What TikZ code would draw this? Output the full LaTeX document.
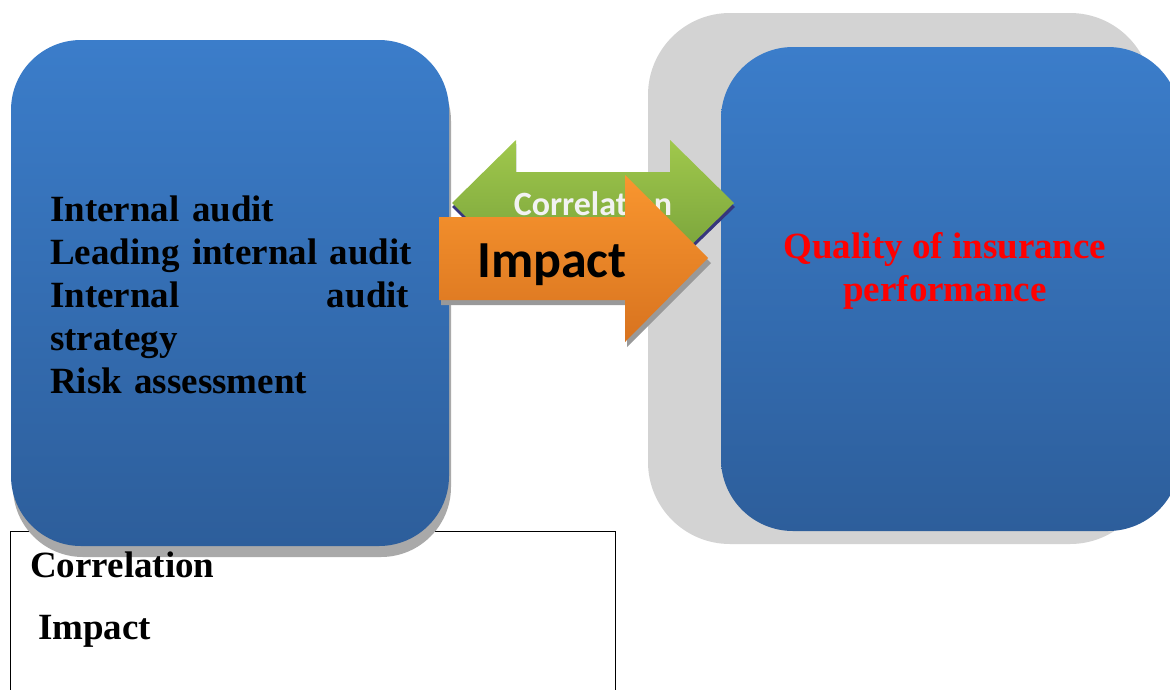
\documentclass[tikz,border=0pt]{standalone}
\usepackage{fontspec}
\setmainfont{Liberation Serif}
\newfontfamily\calibri{Carlito}
\usepackage{tikz}

\definecolor{boxtop}{HTML}{3B7DCA}
\definecolor{boxbottom}{HTML}{2D5E9B}
\definecolor{backgray}{HTML}{D3D3D3}
\definecolor{shadowgray}{HTML}{A9A9A9}
\definecolor{greentop}{HTML}{A0C84C}
\definecolor{greenbottom}{HTML}{76A03A}
\definecolor{orangetop}{HTML}{F9962F}
\definecolor{orangebottom}{HTML}{D8731F}

\begin{document}
\begin{tikzpicture}[x=1pt,y=-1pt,
  bluebox/.style={top color=boxtop,bottom color=boxbottom},
  bigtext/.style={font=\fontsize{37}{43}\selectfont\bfseries}]
 \useasboundingbox (0,0) rectangle (1170,689);

 % legend frame, partly hidden by the left box
 \draw[black,line width=0.8pt] (10,700) -- (10,531) -- (615,531) -- (615,700);

 % right side: gray card behind the blue box
 \fill[backgray,rounded corners=82pt] (648,13) rectangle (1152,544);
 \shade[bluebox,rounded corners=72pt] (721,47) rectangle (1180,531);
 \node (quality) at (945,301)[anchor=base,bigtext,align=center,text=red,inner sep=0]{Quality of insurance\\performance};

 % left box with its shadow
 \fill[shadowgray,rounded corners=70pt] (13,51) rectangle (451,557);
 \shade[bluebox,rounded corners=70pt] (11,40) rectangle (449,546);
 \node (audit) at (50,221)[anchor=base west,bigtext,align=left,text width=359pt,inner sep=0]{Internal audit\\
  \mbox{Leading internal audit}\\
  Internal\hfill audit\\
  strategy\\
  Risk assessment};

 \node (legcorr) at (30,577)[anchor=base west,bigtext,inner sep=0]{Correlation};
 \node (legimp) at (38,639)[anchor=base west,bigtext,inner sep=0]{Impact};

 % double arrow
 \fill[gray!60!blue!70!black] (452,207) -- (516,144) -- (516,176) -- (670,176) -- (670,144) -- (735,207) -- (670,270) -- (670,238) -- (516,238) -- (516,270) -- cycle;
 \shade[top color=greentop,bottom color=greenbottom] (452,203) -- (516,140) -- (516,172) -- (670,172) -- (670,140) -- (734,203) -- (670,266) -- (670,234) -- (516,234) -- (516,266) -- cycle;
 \node (corr) at (593,215)[anchor=base,inner sep=0,text=black!5,font=\calibri\fontsize{34}{40}\selectfont\bfseries]{Correlation};

 % single arrow on top
 \fill[gray!80] (441,222) -- (627,222) -- (627,180) -- (711,263) -- (627,347) -- (627,305) -- (441,305) -- cycle;
 \shade[top color=orangetop,bottom color=orangebottom] (439,217) -- (625,217) -- (625,175) -- (708,258) -- (625,342) -- (625,300) -- (439,300) -- cycle;
 \node (impact) at (477,277)[anchor=base west,inner sep=0,text=black,font=\calibri\fontsize{52}{60}\selectfont\bfseries]{Impact};

\end{tikzpicture}
\end{document}
